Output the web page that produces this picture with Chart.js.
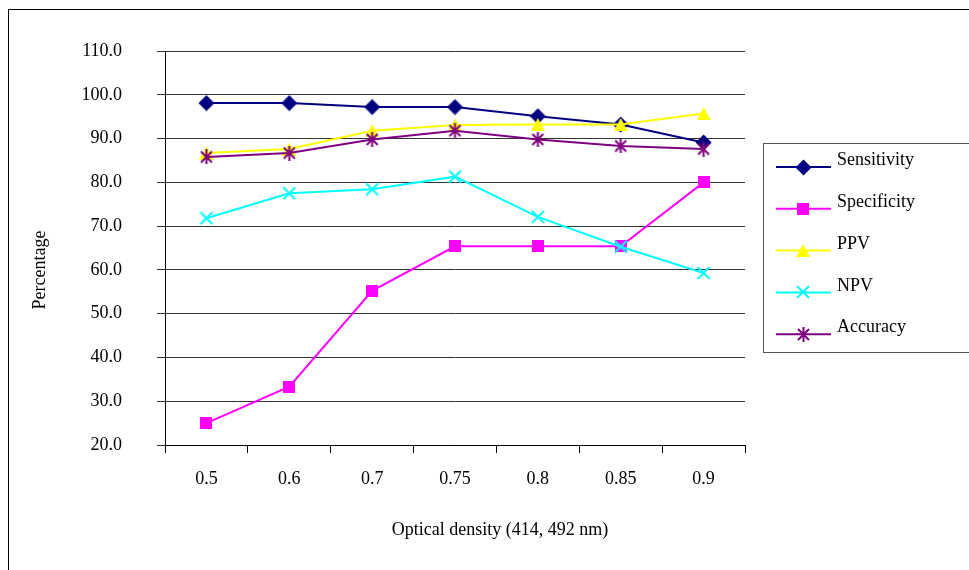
<!DOCTYPE html>
<html>
<head>
<meta charset="utf-8">
<script src="https://cdn.jsdelivr.net/npm/chart.js@4"></script>
<style>
html,body{margin:0;padding:0;background:#fff;}
canvas{display:block;}
</style>
</head>
<body>
<canvas id="c" width="969" height="570"></canvas>
<script>
const categories = ['0.5', '0.6', '0.7', '0.75', '0.8', '0.85', '0.9'];
const sensitivity = [98.1, 98.1, 97.2, 97.2, 95.1, 93.2, 89.1];
const specificity = [25.0, 33.3, 55.2, 65.4, 65.4, 65.4, 80.0];
const ppv = [86.7, 87.6, 91.8, 93.1, 93.2, 93.2, 95.7];
const npv = [71.8, 77.5, 78.4, 81.3, 72.1, 65.3, 59.3];
const accuracy = [85.8, 86.7, 89.8, 91.8, 89.8, 88.3, 87.6];
const yMin = 20, yMax = 110, yStep = 10;
const xTitle = 'Optical density (414, 492 nm)';
const yTitle = 'Percentage';

const FONT = '"Liberation Serif", "Times New Roman", serif';

function mk(w, h, draw) {
  const c = document.createElement('canvas');
  c.width = w; c.height = h;
  const g = c.getContext('2d');
  draw(g, w, h);
  return c;
}
const mDiamond = mk(17, 17, (g) => {
  g.fillStyle = '#000080';
  g.beginPath(); g.moveTo(8.5, 0.5); g.lineTo(16.5, 8.5); g.lineTo(8.5, 16.5); g.lineTo(0.5, 8.5); g.closePath(); g.fill();
});
const mSquare = mk(12, 12, (g) => { g.fillStyle = '#FF00FF'; g.fillRect(0, 0, 12, 12); });
const mTri = mk(14, 13, (g) => {
  g.fillStyle = '#FFFF00';
  g.beginPath(); g.moveTo(7, 0); g.lineTo(14, 13); g.lineTo(0, 13); g.closePath(); g.fill();
});
const mX = mk(14, 14, (g) => {
  g.strokeStyle = '#00FFFF'; g.lineWidth = 2;
  g.beginPath(); g.moveTo(1, 1); g.lineTo(13, 13); g.moveTo(13, 1); g.lineTo(1, 13); g.stroke();
});
const mStar = mk(15, 15, (g) => {
  g.strokeStyle = '#800080'; g.lineWidth = 2;
  g.beginPath(); g.moveTo(2, 2); g.lineTo(13, 13); g.moveTo(13, 2); g.lineTo(2, 13);
  g.moveTo(7.5, 0); g.lineTo(7.5, 15); g.stroke();
});

function ds(label, data, color, marker, order) {
  return {
    label, data, borderColor: color, backgroundColor: color, borderWidth: 2,
    pointStyle: marker, pointRadius: 8, tension: 0, fill: false, order,
    _marker: marker
  };
}

const framePlugin = {
  id: 'frame',
  beforeDraw(chart) {
    const ctx = chart.ctx;
    ctx.save();
    ctx.fillStyle = '#fff';
    ctx.fillRect(0, 0, chart.width, chart.height);
    ctx.strokeStyle = '#000';
    ctx.lineWidth = 1;
    ctx.strokeRect(8.5, 9.5, 2000, 2000);
    ctx.restore();
  },
  afterDraw(chart) {
    const ctx = chart.ctx;
    ctx.save();
    ctx.fillStyle = '#000';
    ctx.font = '18px ' + FONT;
    ctx.textAlign = 'center';
    ctx.textBaseline = 'middle';
    ctx.fillText(xTitle, 500, 530);
    ctx.translate(40, 270);
    ctx.rotate(-Math.PI / 2);
    ctx.fillText(yTitle, 0, 0);
    ctx.restore();

    // legend
    ctx.save();
    ctx.strokeStyle = '#555';
    ctx.lineWidth = 1;
    ctx.strokeRect(763.5, 143.5, 400, 209);
    ctx.font = '18px ' + FONT;
    ctx.textAlign = 'left';
    ctx.textBaseline = 'middle';
    chart.data.datasets.forEach((d, i) => {
      const ly = 167 + i * 41.8;
      ctx.strokeStyle = d.borderColor;
      ctx.lineWidth = 2;
      ctx.beginPath(); ctx.moveTo(776, ly); ctx.lineTo(831, ly); ctx.stroke();
      const m = d._marker;
      ctx.drawImage(m, Math.round(803 - m.width / 2), Math.round(ly - m.height / 2));
      ctx.fillStyle = '#000';
      ctx.fillText(d.label, 837, ly - 6.5);
    });
    ctx.restore();
  }
};

new Chart(document.getElementById('c'), {
  type: 'line',
  data: {
    labels: categories,
    datasets: [
      ds('Sensitivity', sensitivity, '#000080', mDiamond, 5),
      ds('Specificity', specificity, '#FF00FF', mSquare, 4),
      ds('PPV', ppv, '#FFFF00', mTri, 3),
      ds('NPV', npv, '#00FFFF', mX, 2),
      ds('Accuracy', accuracy, '#800080', mStar, 1)
    ]
  },
  options: {
    responsive: false,
    animation: false,
    events: [],
    layout: { padding: { left: 0, top: 51, right: 224, bottom: 0 } },
    plugins: { legend: { display: false }, tooltip: { enabled: false }, title: { display: false } },
    scales: {
      x: {
        type: 'category',
        offset: true,
        afterFit(s) { s.height = 125; },
        grid: { offset: true, drawOnChartArea: false, drawTicks: true, tickLength: 8, color: '#000', lineWidth: 1 },
        border: { display: true, color: '#000', width: 1 },
        ticks: { padding: 15, color: '#000', font: { family: FONT, size: 18 }, maxRotation: 0, autoSkip: false }
      },
      y: {
        min: yMin, max: yMax,
        afterFit(s) { s.width = 165; },
        grid: { color: '#333', lineWidth: 1, tickLength: 8, drawTicks: true },
        border: { display: true, color: '#000', width: 1 },
        ticks: { stepSize: yStep, padding: 35, color: '#000', font: { family: FONT, size: 18 },
          callback: (v) => Number(v).toFixed(1) }
      }
    }
  },
  plugins: [framePlugin]
});
</script>
</body>
</html>
